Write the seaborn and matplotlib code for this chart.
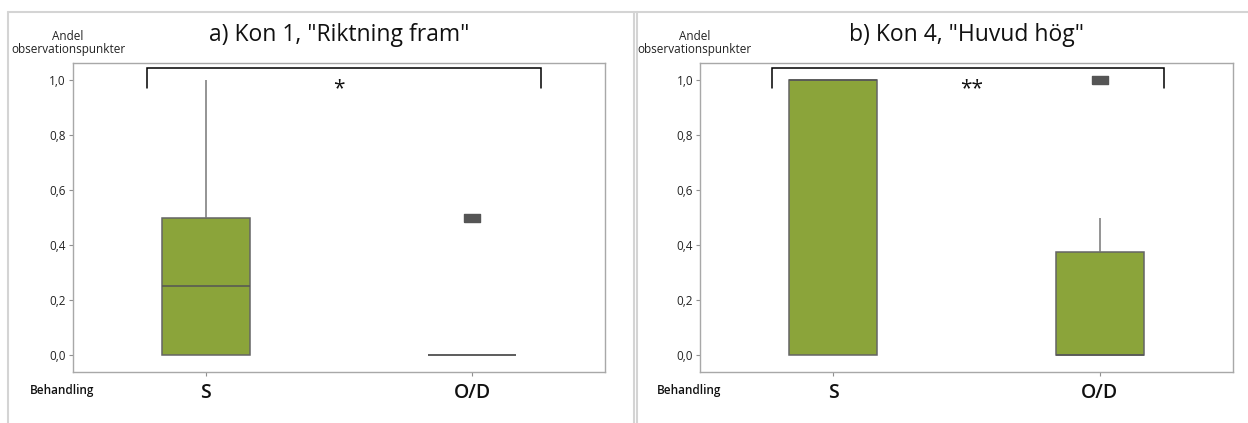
import numpy as np
import pandas as pd
import seaborn as sns
import matplotlib
matplotlib.use("Agg")
import matplotlib.pyplot as plt
from matplotlib.lines import Line2D

# Observed proportions per treatment group
categories = ["S", "O/D"]
kon1_S = [0.0, 0.0, 0.25, 0.5, 1.0]
kon1_OD = [0.0, 0.0, 0.0, 0.0, 0.5]
kon4_S = [0.0, 0.0, 1.0, 1.0, 1.0]
kon4_OD = [0.0, 0.0, 0.0, 0.0, 0.25, 0.5, 1.0]

titles = ['a) Kon 1, "Riktning fram"', 'b) Kon 4, "Huvud hög"']
significance = ["*", "**"]
yticks = [0.0, 0.2, 0.4, 0.6, 0.8, 1.0]
ytick_labels = ["0,0", "0,2", "0,4", "0,6", "0,8", "1,0"]


def frame(s_vals, od_vals):
    return pd.DataFrame({
        "Behandling": [categories[0]] * len(s_vals) + [categories[1]] * len(od_vals),
        "Andel": list(s_vals) + list(od_vals),
    })


datasets = [frame(kon1_S, kon1_OD), frame(kon4_S, kon4_OD)]

sns.set_theme(style="white")
plt.rcParams["font.family"] = ["Open Sans", "DejaVu Sans"]

W, H = 1248, 423
fig = plt.figure(figsize=(W / 100, H / 100), dpi=100)

BOX = "#8ba43a"
EDGE = "#656565"
OUTLIER = "#555555"
rect_marker = [(-1, -0.5), (1, -0.5), (1, 0.5), (-1, 0.5), (-1, -0.5)]

# axes boxes in pixel units: left, top, width, bottom
axes_px = [(72.7, 62.7, 532.5, 371.5), (700.0, 62.7, 533.0, 371.5)]
panel_left = [8, 635]
bracket_x = [(-0.22, 1.26), (-0.23, 1.24)]
star_x = [0.5, 0.52]

# panel frames
line_col = "#d4d4d4"
fig.add_artist(Line2D([8 / W, 1.0], [1 - 12 / H] * 2, color=line_col, lw=1.5,
                      transform=fig.transFigure))
for px in [8, 633.5, 636.5]:
    fig.add_artist(Line2D([px / W] * 2, [0, 1 - 12 / H], color=line_col, lw=1.5,
                          transform=fig.transFigure))

for i, df in enumerate(datasets):
    l, t, w, b = axes_px[i]
    ax = fig.add_axes([l / W, 1 - b / H, w / W, (b - t) / H])
    sns.boxplot(
        data=df, x="Behandling", y="Andel", order=categories, ax=ax,
        color=BOX, saturation=1, width=0.33, linecolor=EDGE, linewidth=1.1,
        showcaps=False,
        whiskerprops=dict(color="#777777", linewidth=1.1),
        medianprops=dict(color="#555555", linewidth=1.1),
        flierprops=dict(marker=rect_marker, markersize=11,
                        markerfacecolor=OUTLIER, markeredgecolor=OUTLIER),
    )
    ax.set_xlim(-0.5, 1.5)
    ax.set_ylim(-0.06, 1.063)
    ax.set_yticks(yticks)
    ax.set_yticklabels(ytick_labels)
    ax.set_xlabel("")
    ax.set_ylabel("")
    for sp in ax.spines.values():
        sp.set_color("#a8a8a8")
        sp.set_linewidth(1.0)
    ax.tick_params(axis="y", which="major", left=True, length=3, width=0.8,
                   color="#909090", labelsize=8.5, labelcolor="#222222", pad=2)
    ax.tick_params(axis="x", which="major", bottom=True, length=3, width=0.8,
                   color="#909090", labelsize=14, labelcolor="#111111", pad=5)
    for lab in ax.get_xticklabels():
        lab.set_fontweight("semibold")

    # significance bracket
    x0, x1 = bracket_x[i]
    ax.plot([x0, x0, x1, x1], [0.971, 1.044, 1.044, 0.971], color="black",
            lw=1.1, solid_joinstyle="miter", clip_on=False)
    ax.text(star_x[i], 0.968, significance[i], ha="center", va="center",
            fontsize=15, color="#111111")

    cx = (l + w / 2) / W
    fig.text(cx, 1 - 35 / H, titles[i], ha="center", va="center",
             fontsize=16.5, color="#111111")
    lx = panel_left[i] + 60
    fig.text(lx / W, 1 - 43 / H, "Andel\nobservationspunkter", ha="center",
             va="center", multialignment="center", fontsize=8.5, linespacing=1.1,
             color="#222222")
    fig.text((panel_left[i] + 22) / W, 1 - 390 / H, "Behandling", ha="left",
             va="center", fontsize=8.5, fontweight="semibold", color="#111111")

fig.savefig("out.png", dpi=100)
